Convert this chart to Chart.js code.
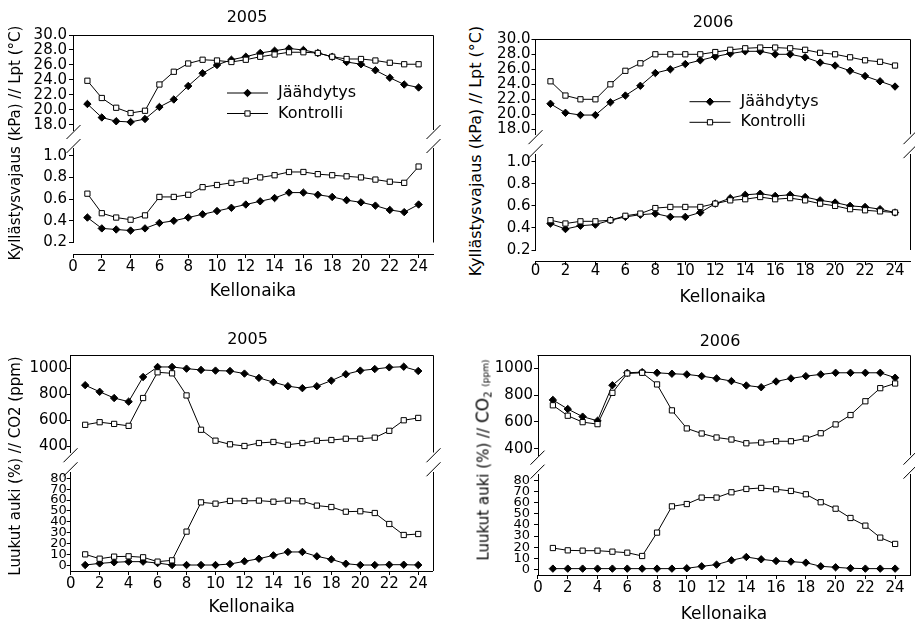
<!DOCTYPE html>
<html>
<head>
<meta charset="utf-8">
<title>Kellonaika – 2005 / 2006</title>
<script src="https://cdn.jsdelivr.net/npm/chart.js@4.4.1/dist/chart.umd.min.js"></script>
<style>
  html, body { margin: 0; padding: 0; background: #fff; width: 915px; height: 622px; overflow: hidden; }
  body { position: relative; font-family: "DejaVu Sans", sans-serif; color: #000; }
  .panel { position: absolute; }
  .panel canvas { display: block; }
  .ttl { position: absolute; transform: translate(-50%, -50%); font-size: 16px; line-height: 1; white-space: nowrap; }
  .ylab { position: absolute; transform: translate(-50%, -50%) rotate(-90deg); font-size: 15px; line-height: 1; white-space: nowrap; }
  .ylab sub { font-size: 10px; vertical-align: -3px; line-height: 0; }
  .ylab .unit { font-size: 9px; }
</style>
</head>
<body>
<div class="panel" id="p1"><canvas id="c1"></canvas></div>
<div class="panel" id="p2"><canvas id="c2"></canvas></div>
<div class="panel" id="p3"><canvas id="c3"></canvas></div>
<div class="panel" id="p4"><canvas id="c4"></canvas></div>

<div class="ttl" id="t1"></div>
<div class="ttl" id="t2"></div>
<div class="ttl" id="t3"></div>
<div class="ttl" id="t4"></div>
<div class="ylab" id="l1"></div>
<div class="ylab" id="l2"></div>
<div class="ylab" id="l3"></div>
<div class="ylab" id="l4"></div>

<script>
// ---- data ----------------------------------------------------------------
const years = ['2005', '2006'];
const seriesNames = ['Jäähdytys', 'Kontrolli'];
const xTitle = 'Kellonaika';
const yTitleClimate = 'Kyllästysvajaus (kPa) // Lpt (°C)';
const yTitleVentCo2 = 'Luukut auki (%) // CO2 (ppm)';

const hours = [1, 2, 3, 4, 5, 6, 7, 8, 9, 10, 11, 12, 13, 14, 15, 16, 17, 18, 19, 20, 21, 22, 23, 24];
const hourTicks = [0, 2, 4, 6, 8, 10, 12, 14, 16, 18, 20, 22, 24];
const tempTicks = [18, 20, 22, 24, 26, 28, 30];
const vpdTicks = [0.2, 0.4, 0.6, 0.8, 1.0];
const co2Ticks = [400, 600, 800, 1000];
const ventTicks = [0, 10, 20, 30, 40, 50, 60, 70, 80];

// air temperature (°C)
const tempCool2005 = [20.8, 19.0, 18.5, 18.4, 18.8, 20.4, 21.4, 23.2, 24.9, 26.0, 26.7, 27.1, 27.6, 27.9, 28.2, 28.0, 27.6, 27.1, 26.4, 26.1, 25.3, 24.3, 23.4, 23.0];
const tempCtrl2005 = [23.9, 21.6, 20.3, 19.6, 19.9, 23.4, 25.1, 26.2, 26.7, 26.6, 26.4, 26.7, 27.1, 27.4, 27.7, 27.7, 27.6, 27.1, 26.8, 26.8, 26.6, 26.3, 26.1, 26.1];
const tempCool2006 = [21.4, 20.2, 19.9, 19.9, 21.6, 22.5, 23.8, 25.5, 26.0, 26.7, 27.2, 27.7, 28.1, 28.4, 28.4, 28.0, 28.0, 27.6, 26.9, 26.5, 25.8, 25.1, 24.4, 23.7];
const tempCtrl2006 = [24.4, 22.5, 22.0, 22.0, 24.0, 25.8, 26.8, 28.0, 28.0, 28.0, 28.0, 28.3, 28.6, 28.8, 28.9, 28.9, 28.8, 28.6, 28.2, 28.0, 27.6, 27.2, 27.0, 26.5];

// vapour pressure deficit (kPa)
const vpdCool2005 = [0.43, 0.33, 0.32, 0.31, 0.33, 0.38, 0.40, 0.43, 0.46, 0.49, 0.52, 0.55, 0.58, 0.61, 0.66, 0.66, 0.64, 0.62, 0.59, 0.57, 0.54, 0.50, 0.48, 0.55];
const vpdCtrl2005 = [0.65, 0.47, 0.43, 0.41, 0.45, 0.62, 0.62, 0.64, 0.71, 0.73, 0.75, 0.77, 0.80, 0.82, 0.85, 0.85, 0.83, 0.82, 0.81, 0.80, 0.78, 0.76, 0.75, 0.90];
const vpdCool2006 = [0.44, 0.39, 0.42, 0.43, 0.47, 0.50, 0.52, 0.53, 0.50, 0.50, 0.54, 0.62, 0.67, 0.70, 0.71, 0.69, 0.70, 0.68, 0.65, 0.63, 0.60, 0.59, 0.57, 0.54];
const vpdCtrl2006 = [0.47, 0.44, 0.46, 0.46, 0.47, 0.51, 0.53, 0.58, 0.59, 0.59, 0.59, 0.62, 0.65, 0.66, 0.68, 0.66, 0.67, 0.65, 0.62, 0.60, 0.57, 0.56, 0.55, 0.54];

// CO2 concentration (ppm)
const co2Cool2005 = [868, 817, 769, 741, 931, 1008, 1008, 995, 985, 980, 977, 957, 924, 891, 860, 845, 860, 903, 952, 980, 992, 1005, 1010, 977];
const co2Ctrl2005 = [563, 583, 570, 555, 769, 967, 959, 789, 525, 441, 413, 400, 423, 431, 410, 423, 441, 446, 456, 456, 464, 517, 598, 616];
const co2Cool2006 = [764, 696, 639, 608, 874, 967, 972, 967, 960, 955, 942, 925, 905, 872, 859, 902, 925, 942, 955, 967, 967, 967, 967, 930];
const co2Ctrl2006 = [724, 646, 598, 583, 817, 962, 967, 880, 686, 551, 513, 483, 468, 440, 445, 455, 455, 475, 515, 581, 651, 754, 852, 887];

// roof vents open (%)
const ventCool2005 = [0.3, 1.8, 2.8, 3.4, 3.4, 2.1, 0.3, 0.3, 0.3, 0.3, 1.2, 3.7, 6.1, 9.2, 12.3, 12.3, 8.3, 5.5, 1.5, 0.3, 0.3, 0.6, 0.6, 0.3];
const ventCtrl2005 = [10.1, 6.1, 8.0, 8.3, 7.4, 3.4, 4.6, 31.0, 57.9, 56.7, 59.2, 59.2, 59.5, 58.5, 59.5, 58.9, 54.9, 53.6, 49.3, 49.7, 48.1, 38.0, 27.9, 28.8];
const ventCool2006 = [0.6, 0.6, 0.6, 0.6, 0.6, 0.6, 0.6, 0.6, 0.6, 0.9, 2.7, 4.2, 8.1, 11.1, 9.0, 7.5, 6.9, 6.0, 2.7, 1.8, 0.9, 0.6, 0.6, 0.6];
const ventCtrl2006 = [19.2, 17.1, 16.8, 16.8, 15.9, 15.0, 12.0, 33.1, 56.8, 58.9, 64.7, 64.7, 69.5, 72.5, 73.4, 72.2, 70.7, 67.7, 60.5, 54.7, 46.3, 39.4, 28.6, 22.9];

// ---- styling -------------------------------------------------------------
Chart.defaults.font.family = "'DejaVu Sans', sans-serif";
Chart.defaults.font.size = 15;
Chart.defaults.color = '#000';

const seriesStyle = [
  { pointStyle: 'rectRot', fill: '#000', order: 1 },   // filled diamond
  { pointStyle: 'rect',    fill: '#fff', order: 0 }    // open square, drawn on top
];

const px = v => Math.round(v) + 0.5;

// frame pieces around a broken y axis: top edge, right edges, "//" break marks
const brokenFrame = {
  id: 'brokenFrame',
  afterDraw(chart) {
    const { ctx, chartArea } = chart;
    const top = chart.scales.yTop, bot = chart.scales.yBot;
    const L = px(chartArea.left - 0.5), R = px(chartArea.right);
    ctx.save();
    ctx.strokeStyle = '#000';
    ctx.lineWidth = 1;
    ctx.beginPath();
    ctx.moveTo(L, px(top.top)); ctx.lineTo(R, px(top.top));
    ctx.moveTo(R, px(top.top)); ctx.lineTo(R, top.bottom);
    ctx.moveTo(R, bot.top); ctx.lineTo(R, bot.bottom);
    const mid = (top.bottom + bot.top) / 2;
    for (const x of [L, R]) {
      for (const c of [mid - 7, mid + 7]) {
        ctx.moveTo(x - 7, c + 7);
        ctx.lineTo(x + 7, c - 7);
      }
    }
    ctx.stroke();
    ctx.restore();
  }
};

// legend placed inside the upper plot
const innerLegend = {
  id: 'innerLegend',
  afterDraw(chart, args, opts) {
    if (!opts || !opts.rows) return;
    const { ctx, chartArea } = chart;
    const s = chart.scales.yTop;
    const entries = chart.data.datasets.filter(d => d.yAxisID === 'yTop');
    ctx.save();
    entries.forEach((ds, i) => {
      const y = s.top + opts.rows[i];
      const x0 = chartArea.left + opts.x, x1 = x0 + opts.len;
      ctx.strokeStyle = ds.borderColor;
      ctx.lineWidth = ds.borderWidth;
      ctx.beginPath(); ctx.moveTo(x0, y); ctx.lineTo(x1, y); ctx.stroke();
      ctx.fillStyle = ds.pointBackgroundColor;
      ctx.strokeStyle = ds.pointBorderColor;
      ctx.lineWidth = ds.pointBorderWidth;
      Chart.helpers.drawPoint(ctx, { pointStyle: ds.pointStyle, radius: ds.pointRadius, rotation: 0, borderWidth: ds.pointBorderWidth }, (x0 + x1) / 2, y);
      ctx.fillStyle = '#000';
      ctx.font = '16px "DejaVu Sans"';
      ctx.textBaseline = 'middle';
      ctx.textAlign = 'left';
      ctx.fillText(ds.label, x1 + opts.gap, y);
    });
    ctx.restore();
  }
};

function makeDatasets(axisID, pair) {
  return pair.map((vals, i) => ({
    label: seriesNames[i],
    data: vals,
    xAxisID: 'x',
    yAxisID: axisID,
    borderColor: '#000',
    borderWidth: 1,
    tension: 0,
    fill: false,
    pointStyle: seriesStyle[i].pointStyle,
    pointRadius: 3.7,
    pointBackgroundColor: seriesStyle[i].fill,
    pointBorderColor: '#000',
    pointBorderWidth: 1,
    order: seriesStyle[i].order
  }));
}

function yAxis(a, weight, stackWeight, yWidth) {
  return {
    type: 'linear', position: 'left', stack: 'v', stackWeight, weight,
    min: a.range[0], max: a.range[1],
    afterBuildTicks: s => { s.ticks = a.ticks.map(v => ({ value: v })); },
    ticks: { autoSkip: false, padding: a.pad, font: { size: a.font }, color: '#000', callback: a.fmt },
    grid: { display: true, drawOnChartArea: false, drawTicks: true, tickLength: 4, color: '#000', lineWidth: 1 },
    border: { display: true, color: '#000', width: 1 },
    afterFit: s => { s.width = yWidth; }
  };
}

function gapAxis(weight, stackWeight) {
  return {
    type: 'linear', position: 'left', stack: 'v', stackWeight, weight,
    min: 0, max: 1,
    grid: { display: false }, border: { display: false }, ticks: { display: false },
    afterFit: s => { s.width = 0; }
  };
}

function buildPanel(spec) {
  const box = document.getElementById(spec.id);
  Object.assign(box.style, {
    left: spec.box[0] + 'px', top: spec.box[1] + 'px',
    width: spec.box[2] + 'px', height: spec.box[3] + 'px'
  });
  const scales = {
    x: {
      type: 'linear', position: 'bottom', min: 0, max: 25,
      afterBuildTicks: s => { s.ticks = hourTicks.map(v => ({ value: v })); },
      ticks: { autoSkip: false, maxRotation: 0, padding: spec.xTickPad, font: { size: 15 }, color: '#000', callback: v => String(v) },
      grid: { display: true, drawOnChartArea: false, drawTicks: true, tickLength: 4, color: '#000', lineWidth: 1 },
      border: { display: true, color: '#000', width: 1 },
      title: { display: true, text: xTitle, font: { size: 17 }, color: '#000', padding: { top: 0, bottom: 0 } },
      afterFit: s => { s.height = spec.xHeight; }
    },
    yTop: yAxis(spec.top, 4, spec.weights[0], spec.yWidth),
    gapA: gapAxis(3, spec.weights[1]),
    yBot: yAxis(spec.bot, 2, spec.weights[2], spec.yWidth)
  };
  if (spec.weights[3]) scales.gapB = gapAxis(1, spec.weights[3]);

  return new Chart(document.getElementById(spec.canvas), {
    type: 'line',
    data: {
      labels: hours,
      datasets: [...makeDatasets('yTop', spec.top.data), ...makeDatasets('yBot', spec.bot.data)]
    },
    options: {
      responsive: true,
      maintainAspectRatio: false,
      animation: false,
      events: [],
      layout: { padding: spec.pad },
      scales,
      plugins: {
        legend: { display: false },
        tooltip: { enabled: false },
        title: { display: false },
        innerLegend: spec.legend || {}
      }
    },
    plugins: [brokenFrame, innerLegend]
  });
}

const fmt1 = v => v.toFixed(1);
const fmt0 = v => String(v);

buildPanel({
  id: 'p1', canvas: 'c1', box: [20, 0, 430, 305],
  pad: { top: 35, left: 9, right: 17, bottom: 3 }, yWidth: 44, xHeight: 48, xTickPad: 0,
  weights: [95, 18, 94.5, 11.5],
  top: { data: [tempCool2005, tempCtrl2005], range: [17.333, 30], ticks: tempTicks, fmt: fmt1, font: 15, pad: 2 },
  bot: { data: [vpdCool2005, vpdCtrl2005], range: [0.2, 1.071], ticks: vpdTicks, fmt: fmt1, font: 15, pad: 2 },
  legend: { x: 154, len: 41, gap: 10, rows: [58, 78.5] }
});

buildPanel({
  id: 'p2', canvas: 'c2', box: [490, 0, 425, 310],
  pad: { top: 39.3, left: 1.5, right: 4.5, bottom: 2.3 }, yWidth: 44, xHeight: 46.7, xTickPad: -3,
  weights: [95, 19.7, 96, 11],
  top: { data: [tempCool2006, tempCtrl2006], range: [17.333, 30], ticks: tempTicks, fmt: fmt1, font: 15, pad: 1 },
  bot: { data: [vpdCool2006, vpdCtrl2006], range: [0.2, 1.07], ticks: vpdTicks, fmt: fmt1, font: 15, pad: 1 },
  legend: { x: 154, len: 41, gap: 10, rows: [62.4, 83] }
});

buildPanel({
  id: 'p3', canvas: 'c3', box: [20, 315, 430, 307],
  pad: { top: 40, left: 6.7, right: 17.3, bottom: 4 }, yWidth: 44, xHeight: 47, xTickPad: 0,
  weights: [97.5, 19.5, 99, 0],
  top: { data: [co2Cool2005, co2Ctrl2005], range: [350, 1100], ticks: co2Ticks, fmt: fmt0, font: 15, pad: -1 },
  bot: { data: [ventCool2005, ventCtrl2005], range: [-5.2, 85.8], ticks: ventTicks, fmt: fmt0, font: 13, pad: 0 }
});

buildPanel({
  id: 'p4', canvas: 'c4', box: [490, 315, 425, 310],
  pad: { top: 40, left: 4, right: 1.6, bottom: 0.5 }, yWidth: 44, xHeight: 49.5, xTickPad: 0,
  weights: [100.3, 18.7, 101, 0],
  top: { data: [co2Cool2006, co2Ctrl2006], range: [350, 1100], ticks: co2Ticks, fmt: fmt0, font: 15, pad: 1 },
  bot: { data: [ventCool2006, ventCtrl2006], range: [-5.15, 86], ticks: ventTicks, fmt: fmt0, font: 13, pad: 4 }
});

// ---- panel titles and shared y-axis titles -------------------------------
function place(id, x, y, text, size) {
  const el = document.getElementById(id);
  el.style.left = x + 'px';
  el.style.top = y + 'px';
  if (size) el.style.fontSize = size + 'px';
  el.textContent = text;
  return el;
}
place('t1', 247, 17, years[0]);
place('t2', 713, 21.7, years[1]);
place('t3', 247.5, 338.7, years[0]);
place('t4', 720, 340.5, years[1]);
place('l1', 15, 143, yTitleClimate, 15);
place('l2', 476, 151, yTitleClimate, 16);
place('l3', 15, 465.5, yTitleVentCo2, 15);
// second CO2 title uses a subscript and a smaller unit
const l4 = place('l4', 483, 459.5, '', 15);
const [ventPart, co2Part] = yTitleVentCo2.split('CO2');
l4.append(ventPart);
const co = document.createElement('span'); co.textContent = 'CO'; co.style.fontSize = '17px';
const sub = document.createElement('sub'); sub.textContent = '2';
const unit = document.createElement('span'); unit.className = 'unit'; unit.textContent = co2Part.trim();
l4.append(co, sub, ' ', unit);
</script>
</body>
</html>
